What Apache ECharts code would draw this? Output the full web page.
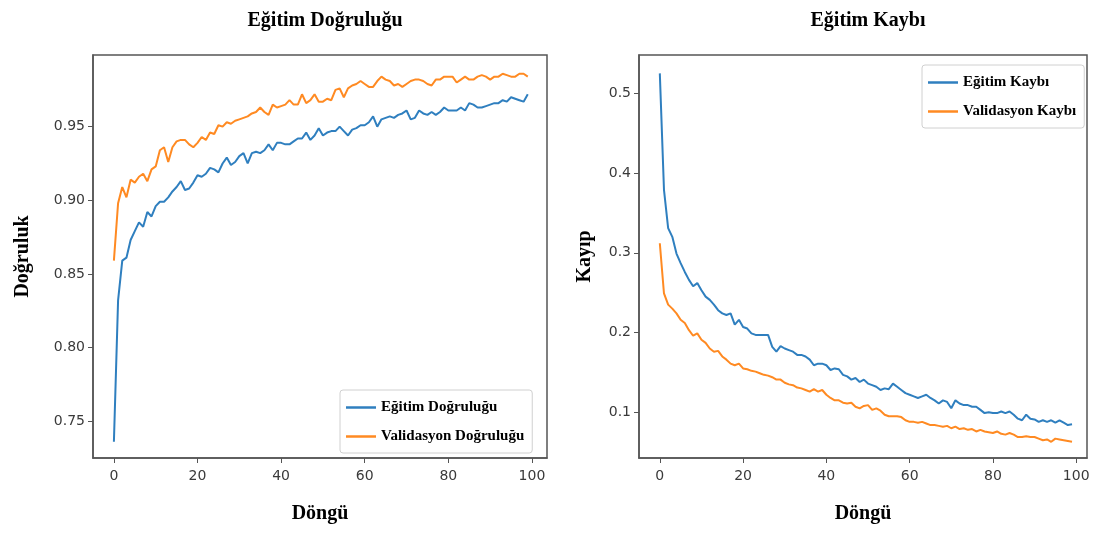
<!DOCTYPE html>
<html>
<head>
<meta charset="utf-8">
<script src="https://cdn.jsdelivr.net/npm/echarts@6/dist/echarts.min.js"></script>
<style>html,body{margin:0;padding:0;background:#fff}#c{width:1095px;height:533px}</style>
</head>
<body>
<div id="c"></div>
<script>
const epochs = Array.from({length: 100}, (_, i) => i);
const trainAcc = [0.736,0.832,0.859,0.861,0.873,0.879,0.885,0.882,0.892,0.889,0.896,0.899,0.899,0.902,0.906,0.909,0.913,0.907,0.908,0.912,
0.917,0.916,0.918,0.922,0.921,0.919,0.925,0.929,0.924,0.926,0.930,0.932,0.925,0.932,0.933,0.932,0.934,0.938,0.934,0.939,
0.939,0.938,0.938,0.940,0.942,0.942,0.946,0.941,0.944,0.949,0.944,0.946,0.947,0.947,0.950,0.947,0.944,0.948,0.949,0.951,
0.951,0.953,0.957,0.950,0.955,0.956,0.957,0.956,0.958,0.959,0.961,0.955,0.956,0.961,0.959,0.958,0.960,0.958,0.960,0.963,
0.961,0.961,0.961,0.963,0.961,0.966,0.965,0.963,0.963,0.964,0.965,0.966,0.966,0.968,0.967,0.970,0.969,0.968,0.967,0.972];
const valAcc = [0.859,0.898,0.909,0.902,0.914,0.912,0.916,0.918,0.913,0.921,0.923,0.934,0.936,0.926,0.936,0.940,0.941,0.941,0.938,0.936,
0.939,0.943,0.941,0.946,0.945,0.951,0.950,0.953,0.952,0.954,0.955,0.956,0.957,0.959,0.960,0.963,0.960,0.958,0.965,0.963,
0.964,0.965,0.968,0.965,0.965,0.972,0.966,0.968,0.972,0.967,0.967,0.969,0.968,0.975,0.976,0.970,0.976,0.978,0.979,0.981,
0.979,0.977,0.977,0.981,0.984,0.982,0.981,0.978,0.979,0.977,0.979,0.981,0.982,0.982,0.981,0.979,0.978,0.982,0.982,0.984,
0.984,0.984,0.980,0.982,0.984,0.982,0.982,0.984,0.985,0.984,0.982,0.984,0.984,0.986,0.985,0.984,0.984,0.986,0.986,0.984];
const trainLoss = [0.525,0.379,0.331,0.320,0.299,0.287,0.276,0.266,0.258,0.262,0.253,0.245,0.241,0.235,0.228,0.224,0.222,0.224,0.210,0.216,
0.207,0.205,0.199,0.197,0.197,0.197,0.197,0.182,0.176,0.183,0.180,0.178,0.176,0.172,0.172,0.170,0.166,0.159,0.161,0.161,
0.159,0.153,0.155,0.154,0.147,0.145,0.141,0.143,0.138,0.141,0.136,0.134,0.132,0.128,0.130,0.129,0.136,0.132,0.128,0.124,
0.122,0.120,0.118,0.120,0.122,0.118,0.115,0.111,0.115,0.113,0.105,0.115,0.111,0.109,0.109,0.107,0.107,0.103,0.099,0.100,
0.099,0.099,0.101,0.099,0.101,0.097,0.092,0.090,0.097,0.092,0.091,0.088,0.090,0.088,0.090,0.087,0.090,0.087,0.084,0.085];
const valLoss = [0.312,0.249,0.235,0.230,0.224,0.216,0.212,0.203,0.196,0.199,0.191,0.187,0.180,0.176,0.177,0.170,0.166,0.161,0.159,0.161,
0.155,0.154,0.152,0.151,0.149,0.147,0.146,0.144,0.141,0.141,0.137,0.135,0.134,0.131,0.130,0.128,0.126,0.129,0.126,0.128,
0.122,0.118,0.115,0.115,0.112,0.111,0.112,0.107,0.105,0.108,0.109,0.103,0.105,0.102,0.097,0.095,0.095,0.095,0.094,0.090,
0.088,0.088,0.087,0.088,0.086,0.084,0.084,0.083,0.082,0.083,0.080,0.082,0.079,0.080,0.078,0.079,0.076,0.078,0.076,0.075,
0.074,0.076,0.073,0.072,0.074,0.072,0.069,0.069,0.070,0.069,0.069,0.067,0.065,0.066,0.063,0.067,0.066,0.065,0.064,0.063];
const xTicks = [0, 20, 40, 60, 80, 100];
const accTicks = [0.75, 0.80, 0.85, 0.90, 0.95];
const lossTicks = [0.1, 0.2, 0.3, 0.4, 0.5];

const BLUE = '#2f7fbf', ORANGE = '#ff8a22';
const serifBold = {fontFamily: 'Liberation Serif', fontWeight: 'bold', color: '#000'};
const tickLabel = {fontFamily: 'DejaVu Sans', fontSize: 14, color: '#3a3a3a'};
const axisLineStyle = {show: true, onZero: false, lineStyle: {color: '#555', width: 1.5}};

function pairs(ys) { return epochs.map((e, i) => [e, ys[i]]); }
function xAxisFor(idx, max) {
  return {
    gridIndex: idx, type: 'value', min: -5, max: max,
    name: 'Döngü', nameLocation: 'middle', nameGap: 46,
    nameTextStyle: Object.assign({fontSize: 20}, serifBold),
    axisLine: axisLineStyle, splitLine: {show: false},
    axisTick: {show: true, inside: false, length: 5, customValues: xTicks, lineStyle: {color: '#555', width: 1}},
    axisLabel: Object.assign({customValues: xTicks, margin: 11}, tickLabel)
  };
}
function yAxisFor(idx, name, min, max, ticks, dec, gap) {
  return {
    gridIndex: idx, type: 'value', min: min, max: max,
    name: name, nameLocation: 'middle', nameGap: gap, nameRotate: 90,
    nameTextStyle: Object.assign({fontSize: 20}, serifBold),
    axisLine: axisLineStyle, splitLine: {show: false},
    axisTick: {show: true, inside: false, length: 5, customValues: ticks, lineStyle: {color: '#555', width: 1}},
    axisLabel: Object.assign({customValues: ticks, margin: 8, formatter: v => v.toFixed(dec)}, tickLabel)
  };
}
const legendBase = {
  orient: 'vertical', icon: 'rect', itemWidth: 30, itemHeight: 2.5, itemGap: 14,
  borderColor: '#d0d0d0', borderWidth: 1, borderRadius: 3, padding: [10, 8, 9, 6],
  backgroundColor: '#fff',
  textStyle: Object.assign({fontSize: 15}, serifBold)
};
const line = (name, data, color, xi) => ({
  name: name, type: 'line', xAxisIndex: xi, yAxisIndex: xi, data: pairs(data),
  symbol: 'none', lineStyle: {width: 2, color: color}, itemStyle: {color: color}, animation: false
});

const chart = echarts.init(document.getElementById('c'), null, {renderer: 'canvas'});
chart.setOption({
  backgroundColor: '#fff',
  animation: false,
  title: [
    {text: 'Eğitim Doğruluğu', left: 320, top: 6, textAlign: 'center', textStyle: Object.assign({fontSize: 20}, serifBold)},
    {text: 'Eğitim Kaybı', left: 863, top: 6, textAlign: 'center', textStyle: Object.assign({fontSize: 20}, serifBold)}
  ],
  grid: [
    {left: 93, right: 548, top: 55, bottom: 75, show: true, borderColor: '#555', borderWidth: 1.5},
    {left: 639, right: 8, top: 55, bottom: 75, show: true, borderColor: '#555', borderWidth: 1.5}
  ],
  legend: [
    Object.assign({left: 340, top: 390, data: ['Eğitim Doğruluğu', 'Validasyon Doğruluğu']}, legendBase),
    Object.assign({left: 922, top: 65, data: ['Eğitim Kaybı', 'Validasyon Kaybı']}, legendBase)
  ],
  xAxis: [xAxisFor(0, 103.6), xAxisFor(1, 102.6)],
  yAxis: [
    yAxisFor(0, 'Doğruluk', 0.7249, 0.9987, accTicks, 2, 60),
    yAxisFor(1, 'Kayıp', 0.0427, 0.548, lossTicks, 1, 44)
  ],
  series: [
    line('Eğitim Doğruluğu', trainAcc, BLUE, 0),
    line('Validasyon Doğruluğu', valAcc, ORANGE, 0),
    line('Eğitim Kaybı', trainLoss, BLUE, 1),
    line('Validasyon Kaybı', valLoss, ORANGE, 1)
  ]
});
</script>
</body>
</html>
